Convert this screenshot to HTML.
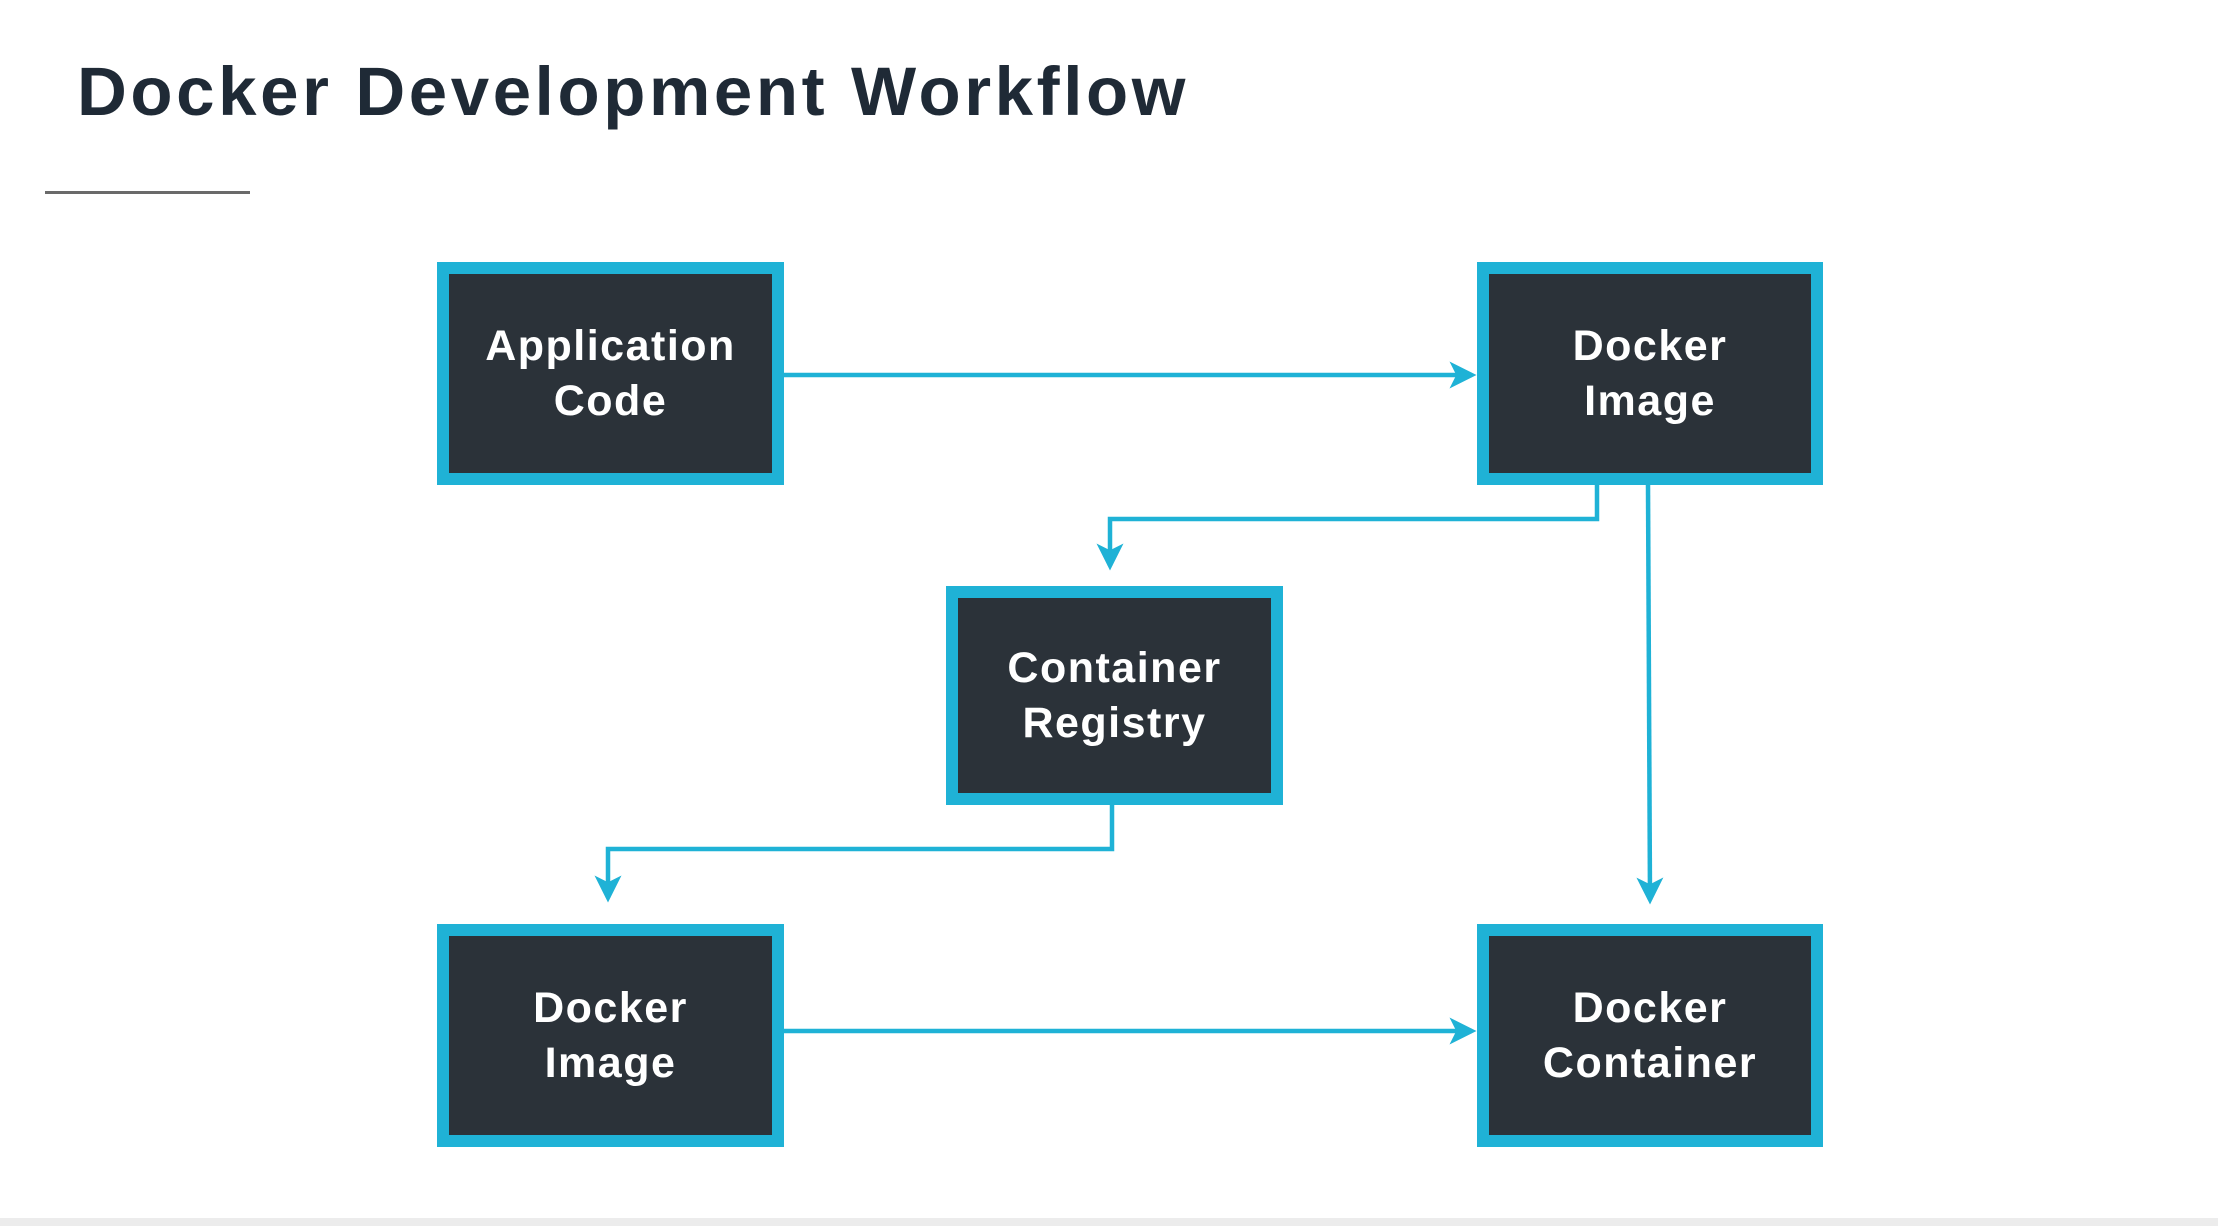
<!DOCTYPE html>
<html><head><meta charset="utf-8"><style>
html,body{margin:0;padding:0;background:#fff;}
body{width:2218px;height:1226px;position:relative;overflow:hidden;font-family:"Liberation Sans",sans-serif;}
.t{position:absolute;left:77px;top:52px;font-size:69px;font-weight:bold;color:#1f2a36;letter-spacing:3.6px;}
.u{position:absolute;left:45px;top:191px;width:205px;height:3px;background:#6a6a6a;}
.b{position:absolute;box-sizing:border-box;border:12px solid #1fb2d6;background:#2b3239;color:#fff;display:flex;align-items:center;justify-content:center;text-align:center;font-size:43px;line-height:55px;font-weight:bold;letter-spacing:1.5px;}
svg{position:absolute;left:0;top:0;}
.bot{position:absolute;left:0;top:1218px;width:2218px;height:8px;background:#ececec;}
</style></head><body>
<div class="t">Docker Development Workflow</div>
<div class="u"></div>
<svg width="2218" height="1226">
<defs><marker id="a" markerWidth="6" markerHeight="6" refX="5" refY="3" orient="auto" markerUnits="strokeWidth"><path d="M0,0 L6,3 L0,6 L1.5,3 z" fill="#1fb2d6"/></marker></defs>
<g stroke="#1fb2d6" stroke-width="4.5" fill="none">
<path d="M784,375 H1472" marker-end="url(#a)"/>
<path d="M1597,485 V519 H1110 V566" marker-end="url(#a)"/>
<path d="M1648,485 L1650,900" marker-end="url(#a)"/>
<path d="M1112,805 V849 H608 V898" marker-end="url(#a)"/>
<path d="M784,1031 H1472" marker-end="url(#a)"/>
</g></svg>
<div class="b" style="left:437px;top:262px;width:347px;height:223px;">Application<br>Code</div>
<div class="b" style="left:1477px;top:262px;width:346px;height:223px;">Docker<br>Image</div>
<div class="b" style="left:946px;top:586px;width:337px;height:219px;">Container<br>Registry</div>
<div class="b" style="left:437px;top:924px;width:347px;height:223px;">Docker<br>Image</div>
<div class="b" style="left:1477px;top:924px;width:346px;height:223px;">Docker<br>Container</div>
<div class="bot"></div>
</body></html>
